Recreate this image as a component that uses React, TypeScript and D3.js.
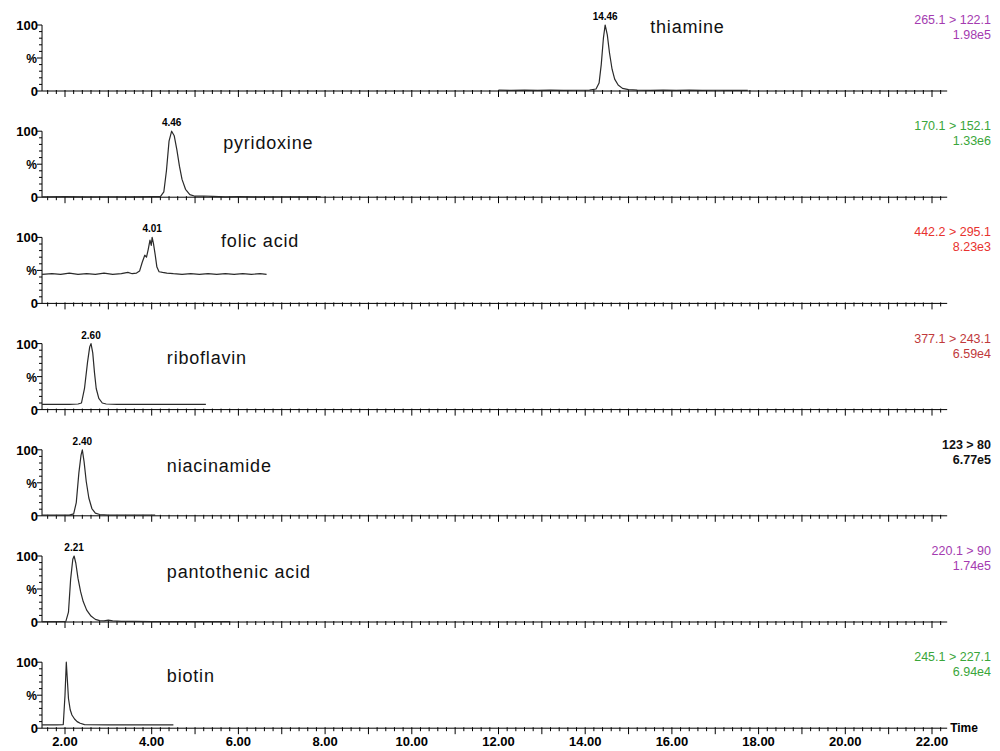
import React from 'react';
import * as d3 from 'd3';

// ---------- data ----------
const compounds = ['thiamine', 'pyridoxine', 'folic acid', 'riboflavin', 'niacinamide', 'pantothenic acid', 'biotin'];
const transitions = ['265.1 > 122.1', '170.1 > 152.1', '442.2 > 295.1', '377.1 > 243.1', '123 > 80', '220.1 > 90', '245.1 > 227.1'];
const intensities = ['1.98e5', '1.33e6', '8.23e3', '6.59e4', '6.77e5', '1.74e5', '6.94e4'];
const peakLabels = ['14.46', '4.46', '4.01', '2.60', '2.40', '2.21', ''];
const xTickValues = [2, 4, 6, 8, 10, 12, 14, 16, 18, 20, 22];
const xTickLabels = ['2.00', '4.00', '6.00', '8.00', '10.00', '12.00', '14.00', '16.00', '18.00', '20.00', '22.00'];

const thiamine: [number, number][] = [
  [12.0, 1.2], [12.3, 0.9], [12.6, 1.3], [12.9, 1.0], [13.2, 1.2], [13.5, 0.9], [13.8, 1.1], [14.1, 1.3],
  [14.25, 3], [14.32, 12], [14.37, 40], [14.42, 80], [14.46, 100], [14.51, 85], [14.56, 58], [14.62, 33],
  [14.68, 18], [14.76, 9], [14.86, 4], [15.0, 2], [15.2, 1.3], [15.5, 1.0], [15.8, 1.4], [16.1, 1.0],
  [16.4, 1.2], [16.7, 0.9], [17.0, 1.1], [17.3, 1.0], [17.75, 1.0],
];
const pyridoxine: [number, number][] = [
  [1.47, 0.6], [2.0, 0.8], [2.5, 0.5], [3.0, 0.7], [3.5, 0.6], [4.0, 0.8], [4.2, 1], [4.28, 8], [4.34, 40],
  [4.40, 85], [4.46, 100], [4.52, 93], [4.58, 72], [4.64, 47], [4.70, 27], [4.78, 12], [4.88, 4], [5.0, 1.5],
  [5.2, 1.8], [5.4, 1.2], [5.7, 0.6], [6.0, 0.8], [6.5, 0.5], [7.0, 0.7], [7.5, 0.6], [7.9, 0.6],
];
const folicAcid: [number, number][] = [
  [1.47, 44], [1.7, 45], [1.9, 44], [2.1, 46], [2.3, 44], [2.5, 45], [2.7, 44], [2.9, 46], [3.1, 44],
  [3.3, 45], [3.45, 47], [3.55, 45], [3.65, 46], [3.72, 49], [3.78, 62], [3.84, 73], [3.88, 70], [3.92, 82],
  [3.96, 96], [3.99, 88], [4.01, 100], [4.04, 91], [4.08, 74], [4.12, 55], [4.17, 48], [4.25, 47], [4.35, 46],
  [4.5, 45], [4.7, 44], [4.9, 45], [5.1, 44], [5.3, 45], [5.5, 44], [5.7, 45], [5.9, 44], [6.1, 45],
  [6.3, 44], [6.5, 45], [6.65, 44],
];
const riboflavin: [number, number][] = [
  [1.47, 8], [1.8, 8], [2.1, 8], [2.3, 8.5], [2.38, 10], [2.45, 32], [2.52, 72], [2.57, 95], [2.60, 100],
  [2.64, 86], [2.68, 56], [2.72, 32], [2.78, 17], [2.86, 10], [2.95, 8.5], [3.2, 8], [3.8, 8], [4.4, 8],
  [5.0, 8], [5.25, 8],
];
const niacinamide: [number, number][] = [
  [1.47, 1], [1.8, 1], [2.1, 1], [2.2, 3], [2.26, 20], [2.32, 65], [2.37, 92], [2.40, 100], [2.44, 82],
  [2.49, 52], [2.55, 27], [2.62, 11], [2.70, 4], [2.8, 2], [3.0, 1], [3.5, 1], [4.08, 1],
];
const pantothenicAcid: [number, number][] = [
  [1.47, 0.5], [1.8, 0.5], [2.02, 1], [2.08, 15], [2.13, 65], [2.18, 95], [2.21, 100], [2.25, 89],
  [2.30, 66], [2.36, 46], [2.42, 31], [2.5, 18], [2.6, 9], [2.7, 4], [2.8, 2.2], [2.9, 1.6], [3.0, 2.8],
  [3.1, 1.6], [3.3, 1], [3.6, 1], [4.0, 0.6], [4.5, 0.5], [5.0, 0.6], [5.8, 0.5],
];
const biotin: [number, number][] = [
  [1.47, 5], [1.8, 5], [1.96, 5.5], [2.0, 50], [2.03, 100], [2.05, 78], [2.08, 45], [2.12, 28], [2.16, 20],
  [2.22, 14], [2.28, 10], [2.35, 7.5], [2.45, 5.5], [3.0, 5], [3.8, 5], [4.5, 5],
];
const traces = [thiamine, pyridoxine, folicAcid, riboflavin, niacinamide, pantothenicAcid, biotin];

// ---------- styles / layout ----------
const labelColors = ['#a43bb0', '#3aa63a', '#e8322e', '#c0393b', '#111111', '#a43bb0', '#3aa63a'];
const nameTimes = [15.5, 5.65, 5.6, 4.35, 4.35, 4.35, 4.35];
const nameOffsets = [8, 18, 10, 20, 22, 22, 20];
const FONT = '"Liberation Sans", Arial, sans-serif';

export default function App() {
  const W = 1000;
  const H = 751;
  const x = d3.scaleLinear().domain([2, 22]).range([65, 932]);
  const axisStart = 1.47;
  const axisEnd = 22.35;
  const panelTop0 = 25;
  const panelStep = 106.2;
  const panelH = 66;
  const minorTicks = d3.range(8, 112).map((i) => i / 5).filter((t) => Math.abs(t - Math.round(t)) > 1e-6);
  const majorTicks = d3.range(2, 23);
  const yMinor = d3.range(0, 101, 10);

  return (
    <svg width={W} height={H} style={{ position: 'absolute', left: 0, top: 0, background: '#fff' }} fontFamily={FONT}>
      <rect width={W} height={H} fill="#fff" />
      {traces.map((data, i) => {
        const top = panelTop0 + panelStep * i;
        const base = top + panelH;
        const y = d3.scaleLinear().domain([0, 100]).range([base, top]);
        const line = d3.line<[number, number]>().x((d) => x(d[0])).y((d) => y(d[1]));
        const peak = data.reduce((a, b) => (b[1] > a[1] ? b : a));
        const ax0 = x(axisStart);
        return (
          <g key={i}>
            {/* y axis */}
            <line x1={ax0} x2={ax0} y1={base} y2={top} stroke="#000" strokeWidth={1} />
            {yMinor.map((v) => (
              <line key={v} x1={ax0 - (v % 50 === 0 ? 5 : 3)} x2={ax0} y1={y(v)} y2={y(v)} stroke="#000" strokeWidth={1} />
            ))}
            <text x={ax0 - 4} y={y(100) + 5} textAnchor="end" fontSize={13} fontWeight="bold">100</text>
            <text x={ax0 - 5} y={y(50) + 5} textAnchor="end" fontSize={12} fontWeight="bold">%</text>
            <text x={ax0 - 4} y={y(0) + 5} textAnchor="end" fontSize={13} fontWeight="bold">0</text>
            {/* x axis */}
            <line x1={ax0} x2={x(axisEnd)} y1={base} y2={base} stroke="#000" strokeWidth={1} />
            {minorTicks.map((t) => (
              <line key={'m' + t} x1={x(t)} x2={x(t)} y1={base - 1} y2={base + 3} stroke="#000" strokeWidth={1} />
            ))}
            {majorTicks.map((t) => (
              <line key={'M' + t} x1={x(t)} x2={x(t)} y1={base - 1} y2={base + 6} stroke="#000" strokeWidth={1} />
            ))}
            {/* trace */}
            <path d={line(data) || ''} fill="none" stroke="#2a2a2a" strokeWidth={1.2} strokeLinejoin="round" />
            {peakLabels[i] && (
              <text x={x(peak[0])} y={y(peak[1]) - 5} textAnchor="middle" fontSize={10} fontWeight="bold">
                {peakLabels[i]}
              </text>
            )}
            {/* compound name */}
            <text x={x(nameTimes[i])} y={top + nameOffsets[i]} fontSize={18} letterSpacing={0.8} fill="#111">
              {compounds[i]}
            </text>
            {/* transition and intensity */}
            <text x={991} y={top - 1} textAnchor="end" fontSize={12.5} fill={labelColors[i]} fontWeight={i === 4 ? 'bold' : 'normal'}>
              {transitions[i]}
            </text>
            <text x={991} y={top + 14} textAnchor="end" fontSize={12.5} fill={labelColors[i]} fontWeight={i === 4 ? 'bold' : 'normal'}>
              {intensities[i]}
            </text>
            {i === traces.length - 1 && (
              <g>
                {xTickValues.map((t, k) => (
                  <text key={t} x={x(t)} y={base + 18} textAnchor="middle" fontSize={13} fontWeight="bold">
                    {xTickLabels[k]}
                  </text>
                ))}
                <text x={x(axisEnd) + 3} y={base + 4} fontSize={12} fontWeight="bold">Time</text>
              </g>
            )}
          </g>
        );
      })}
    </svg>
  );
}
